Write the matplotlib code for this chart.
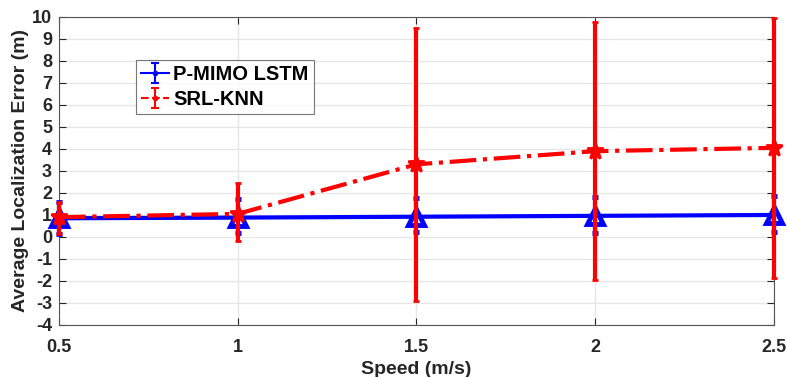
import matplotlib
matplotlib.use("Agg")
import matplotlib.pyplot as plt
import numpy as np

speed = [0.5, 1.0, 1.5, 2.0, 2.5]
lstm_mean = [0.85, 0.88, 0.92, 0.96, 1.0]
lstm_low = [0.15, 0.18, 0.23, 0.18, 0.23]
lstm_high = [1.6, 1.73, 1.77, 1.82, 1.86]
knn_mean = [0.9, 1.05, 3.3, 3.9, 4.05]
knn_low = [0.15, -0.2, -2.9, -1.95, -1.86]
knn_high = [1.6, 2.45, 9.5, 9.75, 9.95]
xticks = [0.5, 1, 1.5, 2, 2.5]
xticklabels = ["0.5", "1", "1.5", "2", "2.5"]
yticks = list(range(-4, 11))

plt.rcParams['font.family'] = ['Liberation Sans', 'DejaVu Sans']
plt.rcParams['axes.unicode_minus'] = False
tc = '#262626'
blue = '#0000ff'
red = '#ff0000'

fig = plt.figure(figsize=(7.87, 3.77), dpi=100)
ax = fig.add_axes([0.075, 0.138, 0.908, 0.817])

lerr = [[m - l for m, l in zip(lstm_mean, lstm_low)], [h - m for m, h in zip(lstm_mean, lstm_high)]]
kerr = [[m - l for m, l in zip(knn_mean, knn_low)], [h - m for m, h in zip(knn_mean, knn_high)]]

e1 = ax.errorbar(speed, lstm_mean, yerr=lerr, color=blue, lw=3, ls='-',
                 marker='^', ms=11, mfc='none', mew=3.5, elinewidth=3, capsize=2.5,
                 capthick=3, clip_on=False, zorder=3)
e2 = ax.errorbar(speed, knn_mean, yerr=kerr, color=red, lw=3, ls='-.',
                 marker='*', ms=12, mew=2, elinewidth=3, capsize=2.5,
                 capthick=3, clip_on=False, zorder=4)
for e in (e1, e2):
    for c in e[1]:
        c.set_clip_on(False)
    for c in e[2]:
        c.set_clip_on(False)

# legend proxies (errorbar glyphs with small dot markers, as in the reference)
p1 = ax.errorbar([np.nan], [np.nan], yerr=[[1.0]], color=blue, lw=1.5, ls='-',
                 marker='.', ms=6, elinewidth=1.5, capsize=3, capthick=1.5)
p2 = ax.errorbar([np.nan], [np.nan], yerr=[[1.0]], color=red, lw=1.5, ls='--',
                 marker='.', ms=6, elinewidth=1.5, capsize=3, capthick=1.5)

ax.set_xlim(0.5, 2.5)
ax.set_ylim(-4, 10)
ax.set_xticks(xticks)
ax.set_xticklabels(xticklabels)
ax.set_yticks(yticks)
ax.grid(True, color='#e6e6e6', lw=1)
ax.set_axisbelow(True)
ax.tick_params(direction='in', top=True, right=True, length=5, color=tc,
               labelsize=13, labelcolor=tc, width=0.8, pad=5)
ax.tick_params(axis='x', pad=10)
for lab in ax.get_xticklabels() + ax.get_yticklabels():
    lab.set_fontweight('bold')
for s in ax.spines.values():
    s.set_color('#555555')
    s.set_linewidth(0.8)

ax.set_ylabel('Average Localization Error (m)', fontsize=14, fontweight='bold', color=tc, labelpad=2)
ax.set_xlabel('Speed (m/s)', fontsize=14, fontweight='bold', color=tc, labelpad=4)

leg = ax.legend([p1, p2], ['P-MIMO LSTM', 'SRL-KNN'], loc='upper left',
                bbox_to_anchor=(0.108, 0.86), fancybox=False,
                prop={'weight': 'bold', 'size': 14.5}, handlelength=1.4, handletextpad=0.2,
                borderpad=0.25, labelspacing=0.3, borderaxespad=0)
leg.get_frame().set_edgecolor('#555555')
leg.get_frame().set_linewidth(0.8)
for t in leg.get_texts():
    t.set_color('black')

fig.savefig('out.png', dpi=100)
